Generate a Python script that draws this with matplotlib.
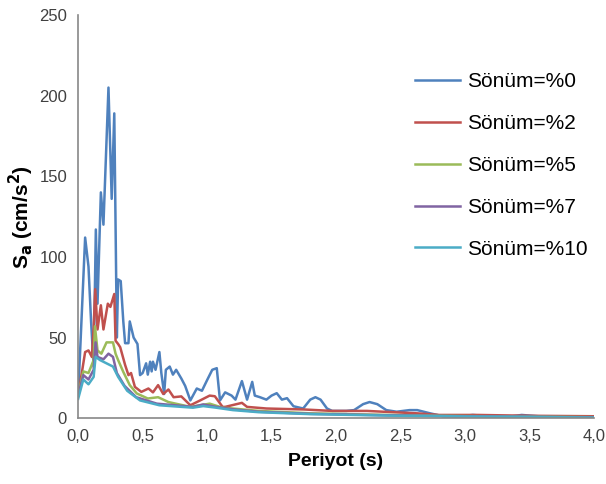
import matplotlib.pyplot as plt
from matplotlib.ticker import FuncFormatter

plt.rcParams['font.family'] = ['Liberation Sans', 'DejaVu Sans']

# --- veriler (grafikten okunan yaklaşık değerler) ---
t_0 = [0.0, 0.054, 0.08, 0.10, 0.12, 0.137, 0.15, 0.176, 0.196, 0.235, 0.26, 0.28, 0.30,
       0.31, 0.33, 0.35, 0.364, 0.39, 0.40, 0.43, 0.46, 0.48, 0.50, 0.527, 0.54, 0.558,
       0.57, 0.58, 0.60, 0.63, 0.645, 0.667, 0.68, 0.71, 0.735, 0.76, 0.80, 0.83,
       0.87, 0.92, 0.96, 1.00, 1.04, 1.075, 1.10, 1.14, 1.19, 1.22, 1.27, 1.31, 1.35,
       1.37, 1.41, 1.46, 1.50, 1.54, 1.58, 1.62, 1.67, 1.745, 1.80, 1.84, 1.88, 1.93,
       1.97, 2.08, 2.14, 2.21, 2.26, 2.32, 2.39, 2.47, 2.57, 2.63, 2.73, 2.83, 2.95,
       3.06, 3.20, 3.35, 3.44, 3.60, 3.80, 4.0]
sa_0 = [14, 112, 94, 60, 32, 117, 71, 140, 120, 205, 136, 189, 50,
        86, 85, 60, 46.5, 46.5, 60, 50, 46, 26.7, 28, 34, 27, 35,
        29, 35, 30, 41, 28, 15, 30, 32, 27, 30, 24.6, 20,
        11, 18.4, 17, 23.6, 30, 31, 11, 16, 14, 11.5, 23, 11.5, 22.5,
        14, 13, 11.5, 14, 15.5, 11.5, 12.4, 7.4, 6, 11.5, 13, 11.5, 6,
        4.5, 4.5, 5, 8.7, 10, 8.7, 5, 4, 5, 5, 3, 1.2, 1.0,
        2, 1.2, 1.0, 2, 1.0, 0.8, 0.8]

t_2 = [0.0, 0.054, 0.08, 0.106, 0.12, 0.132, 0.15, 0.176, 0.196, 0.23, 0.25, 0.28,
       0.29, 0.31, 0.326, 0.364, 0.39, 0.41, 0.44, 0.49, 0.545, 0.58, 0.62, 0.66,
       0.70, 0.74, 0.80, 0.87, 0.946, 1.02, 1.06, 1.12, 1.14, 1.27, 1.31, 1.46, 1.75,
       1.97, 2.24, 2.39, 2.63, 2.80, 3.10, 3.50, 4.0]
sa_2 = [14, 41, 42, 38, 56, 80, 55, 70, 55, 71, 69, 77,
        48, 46, 44, 33, 26.7, 28, 19.4, 16.3, 18.4, 16, 20.5, 15,
        17.8, 13, 13.5, 8, 11, 14, 13.6, 7, 7, 9.5, 7, 6, 5.4,
        4.5, 4.5, 3.9, 3, 2, 2, 1.5, 1.2]

t_5 = [0.0, 0.04, 0.08, 0.12, 0.13, 0.15, 0.18, 0.22, 0.27, 0.29, 0.31, 0.35, 0.40,
       0.455, 0.54, 0.62, 0.70, 0.87, 1.02, 1.12, 1.20, 1.40, 1.80, 2.40, 3.00, 3.50, 4.0]
sa_5 = [14, 29, 28, 36, 57, 42, 40, 47, 47, 40, 36, 28.7, 20.5,
        15.3, 12.2, 13, 10, 7, 9, 6.5, 6, 4.5, 3, 2, 1.3, 1.0, 0.6]

t_7 = [0.0, 0.04, 0.08, 0.12, 0.135, 0.15, 0.196, 0.235, 0.27, 0.30, 0.36, 0.45,
       0.61, 0.89, 0.97, 1.07, 1.20, 1.40, 1.80, 2.40, 3.00, 3.50, 4.0]
sa_7 = [14, 26.7, 24, 30, 47, 38, 36.5, 40, 38, 28, 20, 13,
        9, 7, 8.5, 7, 5.5, 4, 2.7, 1.8, 1.2, 0.9, 0.5]

t_10 = [0.0, 0.04, 0.08, 0.12, 0.135, 0.17, 0.22, 0.27, 0.31, 0.38, 0.48, 0.63,
        0.89, 0.97, 1.07, 1.20, 1.40, 1.80, 2.40, 3.00, 3.50, 4.0]
sa_10 = [12, 24, 21, 25.6, 38, 36, 34, 32, 25.6, 17, 11, 8,
         6.5, 7.5, 6.5, 5, 3.7, 2.5, 1.6, 1.1, 0.8, 0.4]

series = [(t_0, sa_0, 'Sönüm=%0', '#4F81BD'),
          (t_2, sa_2, 'Sönüm=%2', '#C0504D'),
          (t_5, sa_5, 'Sönüm=%5', '#9BBB59'),
          (t_7, sa_7, 'Sönüm=%7', '#8064A2'),
          (t_10, sa_10, 'Sönüm=%10', '#4BACC6')]

fig = plt.figure(figsize=(6.06, 4.84), dpi=100)
ax = fig.add_axes([0.129, 0.136, 0.851, 0.833])

for t, sa, lbl, c in series:
    ax.plot(t, sa, color=c, linewidth=1.8, label=lbl)

ax.set_xlim(0, 4.0)
ax.set_ylim(0, 250)
ax.set_xticks([0, 0.5, 1.0, 1.5, 2.0, 2.5, 3.0, 3.5, 4.0])
ax.set_yticks([0, 50, 100, 150, 200, 250])
ax.xaxis.set_major_formatter(FuncFormatter(lambda v, p: f"{v:.1f}".replace('.', ',')))
ax.tick_params(length=0, labelsize=12, colors='#404040', pad=8)

for s in ['top', 'right']:
    ax.spines[s].set_visible(False)
for s in ['left', 'bottom']:
    ax.spines[s].set_color('#888888')
    ax.spines[s].set_linewidth(1.2)

ax.set_xlabel('Periyot (s)', fontsize=14, fontweight='bold', labelpad=6)
ax.set_ylabel('S$_\\mathbf{a}$ (cm/s$^\\mathbf{2}$)', fontsize=15, fontweight='bold', labelpad=2)

ax.legend(loc='upper left', bbox_to_anchor=(0.616, 0.905), frameon=False, fontsize=15,
          handlelength=2.2, handletextpad=0.3, labelspacing=1.1)

plt.savefig('out.png', dpi=100)
